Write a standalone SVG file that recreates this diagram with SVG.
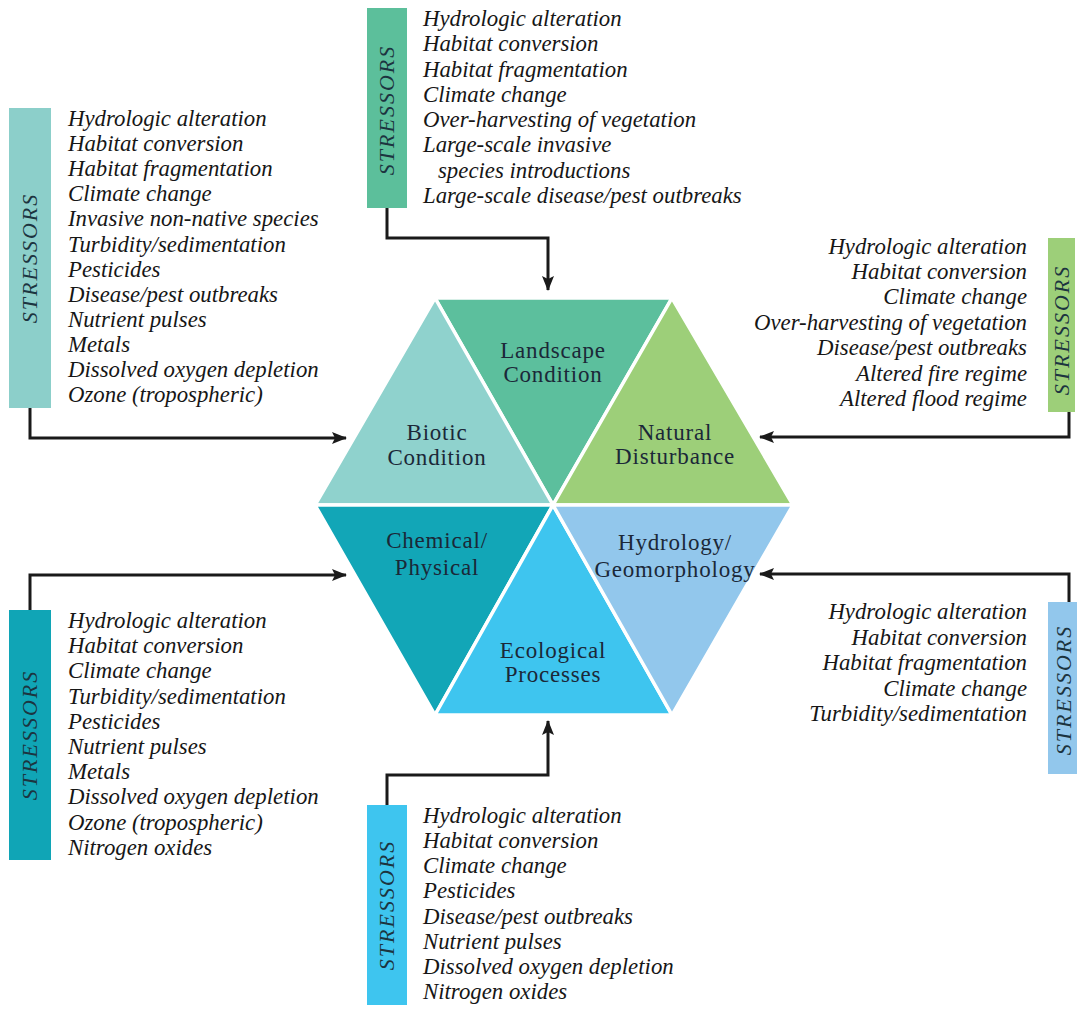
<svg xmlns="http://www.w3.org/2000/svg" width="1077" height="1009" viewBox="0 0 1077 1009">
<defs>
<marker id="arr" markerUnits="userSpaceOnUse" markerWidth="16" markerHeight="12" refX="14" refY="6" orient="auto">
<path d="M0,0 L15,6 L0,12 L3,6 z" fill="#1a1a1a"/>
</marker>
<style>
.tri{stroke:#ffffff;stroke-width:3.5;stroke-linejoin:miter}
.hl{font-family:"Liberation Serif",serif;font-size:23px;letter-spacing:0.8px;fill:#1b2838;text-anchor:middle}
.li{font-family:"Liberation Serif",serif;font-style:italic;font-size:22.8px;fill:#161616}
.lr{text-anchor:end}
.st{font-family:"Liberation Serif",serif;font-style:italic;font-size:22px;letter-spacing:2px;fill:#1c3440;text-anchor:middle}
.con{fill:none;stroke:#1a1a1a;stroke-width:3;marker-end:url(#arr)}
</style>
</defs>
<rect width="1077" height="1009" fill="#ffffff"/>

<g id="hexagon">
<g id="landscape-condition">
<polygon class="tri" points="435,298 672,298 553,505" fill="#5cbf9d"/>
<text class="hl" x="553" y="358">Landscape</text>
<text class="hl" x="553" y="382">Condition</text>
</g>
<g id="biotic-condition">
<polygon class="tri" points="435,298 315,505 553,505" fill="#8fd2cd"/>
<text class="hl" x="437" y="440">Biotic</text>
<text class="hl" x="437" y="465">Condition</text>
</g>
<g id="natural-disturbance">
<polygon class="tri" points="672,298 793,505 553,505" fill="#9dcf79"/>
<text class="hl" x="675" y="440">Natural</text>
<text class="hl" x="675" y="464">Disturbance</text>
</g>
<g id="chemical-physical">
<polygon class="tri" points="315,505 435,715 553,505" fill="#12a6b7"/>
<text class="hl" x="437" y="548">Chemical/</text>
<text class="hl" x="437" y="575">Physical</text>
</g>
<g id="ecological-processes">
<polygon class="tri" points="435,715 672,715 553,505" fill="#3ec5ef"/>
<text class="hl" x="553" y="658">Ecological</text>
<text class="hl" x="553" y="682">Processes</text>
</g>
<g id="hydrology-geomorphology">
<polygon class="tri" points="553,505 793,505 672,715" fill="#92c7ec"/>
<text class="hl" x="675" y="550">Hydrology/</text>
<text class="hl" x="675" y="577">Geomorphology</text>
</g>
</g>

<g id="connectors">
<path class="con" d="M387,208 V238 H548 V290"/>
<path class="con" d="M30,408 V438 H346"/>
<path class="con" d="M1069,412 V437 H760"/>
<path class="con" d="M30,610 V575 H346"/>
<path class="con" d="M1069,602 V574 H760"/>
<path class="con" d="M387,805 V775 H548 V721"/>
</g>

<g id="stressors-biotic">
<rect x="9" y="108" width="42" height="300" fill="#8ccfca"/>
<text class="st" transform="translate(37,258) rotate(-90)">STRESSORS</text>
<text class="li" x="68" y="126">Hydrologic alteration</text>
<text class="li" x="68" y="151">Habitat conversion</text>
<text class="li" x="68" y="176">Habitat fragmentation</text>
<text class="li" x="68" y="201">Climate change</text>
<text class="li" x="68" y="226">Invasive non-native species</text>
<text class="li" x="68" y="252">Turbidity/sedimentation</text>
<text class="li" x="68" y="277">Pesticides</text>
<text class="li" x="68" y="302">Disease/pest outbreaks</text>
<text class="li" x="68" y="327">Nutrient pulses</text>
<text class="li" x="68" y="352">Metals</text>
<text class="li" x="68" y="377">Dissolved oxygen depletion</text>
<text class="li" x="68" y="402">Ozone (tropospheric)</text>
</g>

<g id="stressors-landscape">
<rect x="367" y="8" width="40" height="200" fill="#5cbf9b"/>
<text class="st" transform="translate(394,110) rotate(-90)">STRESSORS</text>
<text class="li" x="423" y="26">Hydrologic alteration</text>
<text class="li" x="423" y="51">Habitat conversion</text>
<text class="li" x="423" y="77">Habitat fragmentation</text>
<text class="li" x="423" y="102">Climate change</text>
<text class="li" x="423" y="127">Over-harvesting of vegetation</text>
<text class="li" x="423" y="152">Large-scale invasive</text>
<text class="li" x="438" y="178">species introductions</text>
<text class="li" x="423" y="203">Large-scale disease/pest outbreaks</text>
</g>

<g id="stressors-natural">
<rect x="1048" y="238" width="27" height="174" fill="#9dcf79"/>
<text class="st" transform="translate(1069,330) rotate(-90)">STRESSORS</text>
<text class="li lr" x="1027" y="254">Hydrologic alteration</text>
<text class="li lr" x="1027" y="279">Habitat conversion</text>
<text class="li lr" x="1027" y="304">Climate change</text>
<text class="li lr" x="1027" y="330">Over-harvesting of vegetation</text>
<text class="li lr" x="1027" y="355">Disease/pest outbreaks</text>
<text class="li lr" x="1027" y="381">Altered fire regime</text>
<text class="li lr" x="1027" y="406">Altered flood regime</text>
</g>

<g id="stressors-chemical">
<rect x="9" y="610" width="42" height="250" fill="#10a5b6"/>
<text class="st" transform="translate(37,735) rotate(-90)">STRESSORS</text>
<text class="li" x="68" y="628">Hydrologic alteration</text>
<text class="li" x="68" y="653">Habitat conversion</text>
<text class="li" x="68" y="678">Climate change</text>
<text class="li" x="68" y="704">Turbidity/sedimentation</text>
<text class="li" x="68" y="729">Pesticides</text>
<text class="li" x="68" y="754">Nutrient pulses</text>
<text class="li" x="68" y="779">Metals</text>
<text class="li" x="68" y="804">Dissolved oxygen depletion</text>
<text class="li" x="68" y="830">Ozone (tropospheric)</text>
<text class="li" x="68" y="855">Nitrogen oxides</text>
</g>

<g id="stressors-hydrology">
<rect x="1048" y="602" width="29" height="172" fill="#92c7ec"/>
<text class="st" transform="translate(1071,690) rotate(-90)">STRESSORS</text>
<text class="li lr" x="1027" y="619">Hydrologic alteration</text>
<text class="li lr" x="1027" y="645">Habitat conversion</text>
<text class="li lr" x="1027" y="670">Habitat fragmentation</text>
<text class="li lr" x="1027" y="696">Climate change</text>
<text class="li lr" x="1027" y="721">Turbidity/sedimentation</text>
</g>

<g id="stressors-ecological">
<rect x="367" y="805" width="40" height="200" fill="#3ec5ef"/>
<text class="st" transform="translate(394,905) rotate(-90)">STRESSORS</text>
<text class="li" x="423" y="823">Hydrologic alteration</text>
<text class="li" x="423" y="848">Habitat conversion</text>
<text class="li" x="423" y="873">Climate change</text>
<text class="li" x="423" y="898">Pesticides</text>
<text class="li" x="423" y="924">Disease/pest outbreaks</text>
<text class="li" x="423" y="949">Nutrient pulses</text>
<text class="li" x="423" y="974">Dissolved oxygen depletion</text>
<text class="li" x="423" y="999">Nitrogen oxides</text>
</g>
</svg>
